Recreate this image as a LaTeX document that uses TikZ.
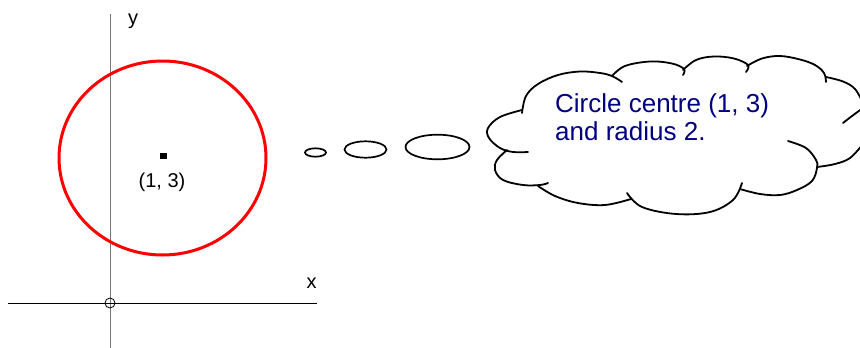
\documentclass[tikz,border=0pt]{standalone}
\usepackage{fontspec}
\setmainfont{Liberation Sans}
\definecolor{navytext}{RGB}{0,0,128}
\definecolor{axisgray}{RGB}{120,120,120}
\begin{document}
\begin{tikzpicture}[x=1pt,y=-1pt,
  cloudline/.style={line width=1.8pt, line cap=round, line join=round},
  bubble/.style={line width=1.7pt},
  lbl/.style={font=\fontsize{20}{24}\selectfont, inner sep=0pt},
  thought/.style={font=\fontsize{26}{28}\selectfont, text=navytext, inner sep=0pt, align=left}]
\useasboundingbox (0,0) rectangle (860,348);
\clip (0,0) rectangle (860,348);
% axes
\draw[axisgray, line width=1pt] (110,14) -- (110,348);
\draw[line width=1pt] (8,303) -- (317,303);
\draw[line width=0.8pt] (110,303) circle[radius=5];
\node[lbl, anchor=base] (ylab) at (133,24) {y};
\node[lbl, anchor=base] (xlab) at (311.5,288) {x};
% circle
\draw[red, line width=3pt] (162.5,158) ellipse[x radius=103.5, y radius=97];
\fill (159.5,153) rectangle (166.5,159);
\node[lbl, anchor=base] (clab) at (162,187.5) {(1, 3)};
% thought bubbles
\draw[bubble] (315.5,152.5) ellipse[x radius=10.5, y radius=4.2];
\draw[bubble] (365.5,149.5) ellipse[x radius=21, y radius=8.2];
\draw[bubble] (437.5,147) ellipse[x radius=32, y radius=12.3];
% cloud
\draw[cloudline] plot[smooth, tension=0.6] coordinates {(522,113) (526,96) (538,84) (558,75) (580,71.5) (600,73) (612,76) (622,82)};
\draw[cloudline] plot[smooth, tension=0.6] coordinates {(612,76) (625,66) (650,61.5) (672,63.5) (684,69) (683,75)};
\draw[cloudline] plot[smooth, tension=0.6] coordinates {(683,70) (696,60) (714,56.5) (734,58.5) (748,65) (746,72)};
\draw[cloudline] plot[smooth, tension=0.6] coordinates {(747,66) (762,58.5) (780,56) (800,59.5) (815,65) (824,73) (826,82)};
\draw[cloudline] plot[smooth, tension=0.6] coordinates {(826,77) (843,81.5) (855,89) (863,103)};
\draw[cloudline] plot[smooth, tension=0.6] coordinates {(843,123) (852,116) (863,108)};
\draw[cloudline] plot[smooth, tension=0.6] coordinates {(863,144) (850,158) (835,164) (817,167)};
\draw[cloudline] plot[smooth, tension=0.6] coordinates {(788,141) (806,148) (816,160) (817,168) (812,181) (797,190) (780,195) (760,194) (740,189)};
\draw[cloudline] plot[smooth, tension=0.6] coordinates {(627,193) (642,207) (676,214) (710,212) (733,200) (742,183)};
\draw[cloudline] plot[smooth, tension=0.6] coordinates {(538,186) (555,196) (578,203) (605,205) (631,199)};
\draw[cloudline] plot[smooth, tension=0.6] coordinates {(507,150) (497,160) (495,170) (503,180) (523,185) (540,185) (548,183)};
\draw[cloudline] plot[smooth, tension=0.6] coordinates {(522,110) (500,117) (488,128) (489,138) (500,148) (513,152) (528,152)};
\node[thought, anchor=base west] (ctext) at (555,140) {Circle centre (1, 3)\\and radius 2.};
\end{tikzpicture}
\end{document}
